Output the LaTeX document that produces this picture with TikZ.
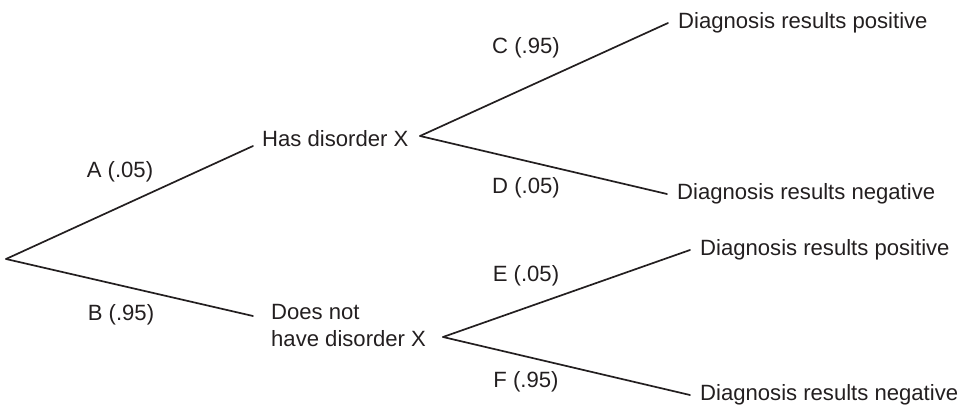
\documentclass[tikz,border=0pt]{standalone}
\usepackage{fontspec}
\setmainfont{Liberation Sans}
\definecolor{ink}{HTML}{231F20}
\begin{document}
\begin{tikzpicture}[x=1pt,y=-1pt,
  every node/.style={text=ink, font=\fontsize{22.1}{27}\selectfont},
  branch/.style={draw=ink, line width=1.7pt, line cap=round},
  outcome/.style={anchor=west, inner xsep=10pt, inner ysep=2pt},
  problabel/.style={inner sep=0pt}]
\useasboundingbox (0,0) rectangle (966,410);

% branch points
\coordinate (root)  at (6,259);
\coordinate (fork1) at (420,136);
\coordinate (fork2) at (443,337);

% first-level states
\node[anchor=base west, inner xsep=9pt, inner ysep=2pt] (has) at (253,146) {Has disorder X};
\node[anchor=west, align=left, inner xsep=18pt, inner ysep=0pt] (hasnot) at (253,325)
  {Does not\\have disorder X};

% diagnosis outcomes
\node[outcome] (pos1) at (668,23)  {Diagnosis results positive};
\node[outcome] (neg1) at (667,194) {Diagnosis results negative};
\node[outcome] (pos2) at (690,250) {Diagnosis results positive};
\node[outcome] (neg2) at (690,395) {Diagnosis results negative};

% branches
\draw[branch] (root) -- (has.base west);
\draw[branch] (root) -- ([yshift=9pt]hasnot.west);
\draw[branch] (fork1) -- (pos1.west);
\draw[branch] (fork1) -- (neg1.west);
\draw[branch] (fork2) -- (pos2.west);
\draw[branch] (fork2) -- (neg2.west);

% probabilities
\node[problabel] (pa) at (120,172) {A (.05)};
\node[problabel] (pb) at (121,315) {B (.95)};
\node[problabel] (pc) at (526,48)  {C (.95)};
\node[problabel] (pd) at (526,188) {D (.05)};
\node[problabel] (pe) at (526,276) {E (.05)};
\node[problabel] (pf) at (526,382) {F (.95)};
\end{tikzpicture}
\end{document}
